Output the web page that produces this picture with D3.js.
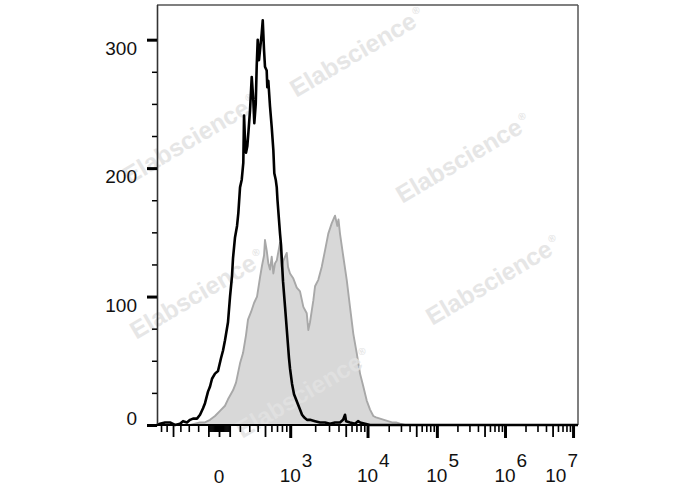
<!DOCTYPE html>
<html><head><meta charset="utf-8">
<script src="https://cdn.jsdelivr.net/npm/d3@7/dist/d3.min.js"></script>
<style>html,body{margin:0;padding:0;background:#fff;} svg{display:block}</style>
</head><body>
<svg id="chart" width="688" height="490"></svg>
<script>
// ---- data (x in logicle display decades, y = cell count) ----
const blackX = [-0.912,-0.868,-0.794,-0.721,-0.647,-0.574,-0.529,-0.471,-0.426,-0.382,-0.324,-0.279,-0.235,-0.206,-0.162,-0.132,-0.103,-0.059,-0.015,0.029,0.059,0.088,0.132,0.162,0.191,0.206,0.235,0.265,0.284,0.309,0.334,0.357,0.368,0.382,0.397,0.416,0.431,0.456,0.481,0.504,0.519,0.540,0.554,0.569,0.588,0.603,0.628,0.643,0.662,0.676,0.701,0.710,0.725,0.750,0.775,0.799,0.813,0.834,0.849,0.860,0.897,0.912,0.941,0.971,1.000,1.029,1.044,1.074,1.103,1.132,1.162,1.191,1.221,1.250,1.294,1.338,1.412,1.485,1.559,1.632,1.706,1.779,1.824,1.853,1.868,1.926,2.000,2.044,2.074,2.147,2.221,5.279];
const blackY = [0,1,2,2,0,1,3,2,4,5,5,8,13,17,26,30,36,40,42,52,58,66,80,100,116,130,146,155,165,185,191,204,241,222,212,217,227,245,271,253,235,250,279,300,284,292,305,315,292,279,276,263,268,248,232,214,196,191,185,175,149,140,112,92,72,52,44,32,24,20,16,12,8,6,4,4,3,2,2,1,2,2,4,8,3,2,1,3,2,1,0,0];
const grayX = [-0.426,-0.353,-0.279,-0.206,-0.132,-0.059,0.015,0.088,0.132,0.206,0.250,0.309,0.353,0.397,0.426,0.471,0.515,0.559,0.603,0.632,0.662,0.676,0.701,0.725,0.750,0.775,0.799,0.824,0.849,0.897,0.922,0.946,0.996,1.015,1.044,1.093,1.143,1.191,1.240,1.290,1.313,1.338,1.387,1.412,1.460,1.510,1.559,1.607,1.657,1.706,1.740,1.757,1.779,1.828,1.878,1.926,1.975,2.025,2.074,2.122,2.172,2.221,2.269,2.309,2.368,2.426,2.485,2.544,2.603,2.662,2.735];
const grayY = [0,1,2,2,4,7,11,15,20,27,33,48,56,70,82,88,95,100,115,124,132,144,136,126,121,131,118,126,128,142,123,128,134,123,118,114,107,104,92,87,74,80,97,108,113,123,136,149,157,163,155,160,149,131,113,92,71,56,40,30,19,12,7,6,5,4,3,2,2,1,0];

const yMajorTicks = [0,100,200,300];
const yMinorTicks = [25,50,75,125,150,175,225,250,275];
const xLabelTicks = [0,1e3,1e4,1e5,1e6,1e7];
const xLabelExp = ["0","3","4","5","6","7"];
const xMidTicks = [-500,-100,0,100,500,5e3,5e4,5e5,5e6];
const xMinorTicks = [-700,-600,-400,-300,-200,-90,-80,-70,-60,-50,-40,-30,-20,-10,10,20,30,40,50,60,70,80,90,200,300,400,600,700,800,900,2e3,3e3,4e3,6e3,7e3,8e3,9e3,2e4,3e4,4e4,6e4,7e4,8e4,9e4,2e5,3e5,4e5,6e5,7e5,8e5,9e5,2e6,3e6,4e6,6e6,7e6,8e6,9e6];
const xDisplayDomain = [-0.912, 5.279];
const yDomain = [0, 327];

// ---- logicle transform ----
const LA = 62.2, LP = 3.43;
function logicleInverse(u){
  const s = Math.sign(u), a = Math.abs(u);
  return s*LA*(Math.pow(10,a) - LP*LP*Math.pow(10,-a/LP) + LP*LP - 1);
}
function logicle(v){
  if (v === 0) return 0;
  const s = Math.sign(v), t = Math.abs(v);
  let lo = 0, hi = 9;
  for (let i=0;i<80;i++){ const m=(lo+hi)/2; if (logicleInverse(m) < t) lo = m; else hi = m; }
  return s*(lo+hi)/2;
}

const L = 157, R = 578, T = 5, B = 425;
const svg = d3.select("#chart");
const x = d3.scaleLinear().domain(xDisplayDomain).range([L, R]);
const y = d3.scaleLinear().domain(yDomain).range([B, T]);
const FONT = "'Liberation Sans', Arial, Helvetica, sans-serif";
const FS = 19;

// gray filled histogram
const grayData = grayX.map((d,i)=>[d, grayY[i]]);
svg.append("path").datum(grayData)
  .attr("d", d3.area().x(d=>x(d[0])).y0(y(0)).y1(d=>y(d[1])))
  .attr("fill", "#d8d8d8").attr("stroke", "#a8a8a8").attr("stroke-width", 1.9)
  .attr("stroke-linejoin", "round");

// watermarks
const wmSpots = [[357,52],[190,139],[463,158],[493,280],[197,294],[303,393]];
wmSpots.forEach(p=>{
  const t = svg.append("text")
    .attr("transform", `translate(${p[0]},${p[1]}) rotate(-30.5)`)
    .attr("text-anchor","middle").attr("dy","0.35em")
    .attr("font-family", FONT).attr("font-weight","bold").attr("font-size",24.5)
    .attr("fill","#e2e2e2").attr("opacity",0.85);
  t.append("tspan").text("Elabscience");
  t.append("tspan").attr("font-size",10).attr("dy",-11).attr("dx",2).text("®");
});

// black histogram line
const blackData = blackX.map((d,i)=>[d, blackY[i]]);
svg.append("path").datum(blackData)
  .attr("d", d3.line().x(d=>x(d[0])).y(d=>y(d[1])))
  .attr("fill","none").attr("stroke","#000").attr("stroke-width",2.6)
  .attr("stroke-linejoin","round");

// frame
svg.append("line").attr("x1",L).attr("x2",R).attr("y1",T).attr("y2",T).attr("stroke","#555").attr("stroke-width",1.5);
svg.append("line").attr("x1",R).attr("x2",R).attr("y1",T).attr("y2",B).attr("stroke","#555").attr("stroke-width",1.5);
svg.append("line").attr("x1",L+0.5).attr("x2",L+0.5).attr("y1",T).attr("y2",B).attr("stroke","#333").attr("stroke-width",1.6);

// y axis ticks
function styleAxis(g, w){ g.select(".domain").remove(); g.selectAll(".tick line").attr("stroke","#000").attr("stroke-width",w); g.selectAll(".tick text").remove(); }
svg.append("g").attr("transform",`translate(${L},0)`)
  .call(d3.axisLeft(y).tickValues(yMinorTicks).tickSize(5).tickFormat(""))
  .call(g=>styleAxis(g,1.5));
svg.append("g").attr("transform",`translate(${L},0)`)
  .call(d3.axisLeft(y).tickValues(yMajorTicks).tickSize(10).tickFormat(""))
  .call(g=>styleAxis(g,3));
svg.selectAll(".ylab").data(yMajorTicks).enter().append("text")
  .attr("x",137).attr("y",d=>Math.min(y(d)+15, y(0)))
  .attr("text-anchor","end").attr("font-family",FONT).attr("font-size",FS).attr("fill","#111")
  .text(d=>d);

// x axis ticks
const inDom = v => { const u = logicle(v); return u >= xDisplayDomain[0] && u <= xDisplayDomain[1]; };
svg.append("g").attr("transform",`translate(0,${B})`)
  .call(d3.axisBottom(x).tickValues(xMinorTicks.filter(inDom).map(logicle)).tickSize(7).tickFormat(""))
  .call(g=>styleAxis(g,1.6));
svg.append("g").attr("transform",`translate(0,${B})`)
  .call(d3.axisBottom(x).tickValues(xMidTicks.filter(inDom).map(logicle)).tickSize(12).tickFormat(""))
  .call(g=>styleAxis(g,1.8));
svg.append("g").attr("transform",`translate(0,${B})`)
  .call(d3.axisBottom(x).tickValues(xLabelTicks.slice(1).map(logicle)).tickSize(13).tickFormat(""))
  .call(g=>styleAxis(g,3));
svg.append("line").attr("x1",L).attr("x2",R).attr("y1",B).attr("y2",B).attr("stroke","#000").attr("stroke-width",2.2);

// x labels
xLabelTicks.forEach((v,i)=>{
  const px = x(logicle(v));
  if (v === 0){
    svg.append("text").attr("x",px).attr("y",483).attr("text-anchor","middle")
      .attr("font-family",FONT).attr("font-size",FS).attr("fill","#111").text("0");
    return;
  }
  const base = svg.append("text").attr("y",482).attr("text-anchor","middle")
    .attr("font-family",FONT).attr("font-size",FS).attr("fill","#111").text("10");
  const sup = svg.append("text").attr("y",467).attr("text-anchor","start")
    .attr("font-family",FONT).attr("font-size",FS).attr("fill","#111").text(xLabelExp[i]);
  const bw = base.node().getComputedTextLength(), sw = sup.node().getComputedTextLength();
  const cx = Math.min(px, R - sw - 1 - bw/2);
  base.attr("x", cx);
  sup.attr("x", cx + bw/2 + 1);
});
</script>
</body></html>
